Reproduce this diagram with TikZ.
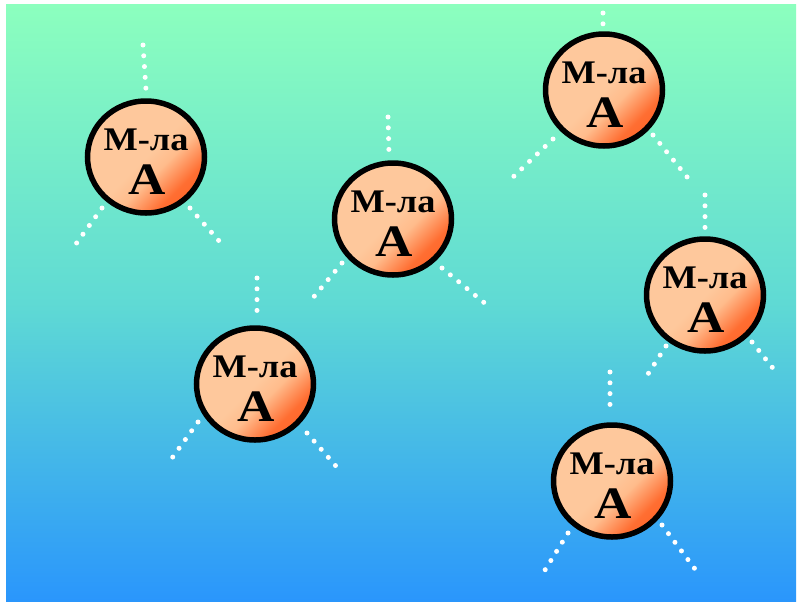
\documentclass[tikz,border=0pt]{standalone}
\usepackage{fontspec}
\setmainfont{Liberation Serif}
\definecolor{bgtop}{RGB}{140,255,190}
\definecolor{bgmid}{RGB}{95,218,212}
\definecolor{bgbot}{RGB}{42,150,252}
\definecolor{peach}{RGB}{254,200,156}
\definecolor{peachb}{RGB}{255,188,140}
\definecolor{orng}{RGB}{255,110,50}
\definecolor{redor}{RGB}{255,68,0}
\pgfdeclarehorizontalshading{ballshade}{100bp}{color(0bp)=(peach); color(50bp)=(peach); color(58bp)=(peachb); color(70bp)=(orng); color(100bp)=(redor)}
\tikzset{
  ball/.style={ellipse, minimum width=117pt, minimum height=112pt, inner sep=0pt, draw=black, line width=5.5pt, shading=ballshade, shading angle=-45},
  dots/.style={draw=white, line width=5pt, line cap=round, dash pattern=on 0pt off 10.8pt},
  lbl/.style={anchor=base, inner sep=0pt, font=\bfseries\fontsize{33}{33}\selectfont},
  big/.style={anchor=base, inner sep=0pt, font=\bfseries\fontsize{45}{45}\selectfont}
}
\usetikzlibrary{shapes.geometric}
\begin{document}
\begin{tikzpicture}[x=1pt,y=-1pt]
\useasboundingbox (0,0) rectangle (798,603);
\fill[white] (0,0) rectangle (798,603);
\shade[top color=bgtop, bottom color=bgbot, middle color=bgmid] (6,4) rectangle (796,601);
% dotted lines
\coordinate (a1) at (143,45);  \coordinate (a2) at (146,90);
\coordinate (a3) at (102,208); \coordinate (a4) at (73,248);
\coordinate (a5) at (190,208); \coordinate (a6) at (220,242);
\coordinate (b1) at (388,117); \coordinate (b2) at (389,154);
\coordinate (b3) at (342,263); \coordinate (b4) at (312,299);
\coordinate (b5) at (442,268); \coordinate (b6) at (487,305);
\coordinate (c1) at (603,13);  \coordinate (c2) at (603,24);
\coordinate (c3) at (553,139); \coordinate (c4) at (511,179);
\coordinate (c5) at (653,135); \coordinate (c6) at (692,183);
\coordinate (d1) at (705,195); \coordinate (d2) at (705,232);
\coordinate (d3) at (666,346); \coordinate (d4) at (648,374);
\coordinate (d5) at (752,342); \coordinate (d6) at (776,372);
\coordinate (e1) at (257,278); \coordinate (e2) at (257,318);
\coordinate (e3) at (198,422); \coordinate (e4) at (167,465);
\coordinate (e5) at (307,433); \coordinate (e6) at (342,473);
\coordinate (f1) at (610,372); \coordinate (f2) at (610,413);
\coordinate (f3) at (568,533); \coordinate (f4) at (545,570);
\coordinate (f5) at (662,525); \coordinate (f6) at (698,573);
\foreach \p in {a,b,c,d,e,f}{
  \draw[dots] (\p1) -- (\p2);
  \draw[dots] (\p3) -- (\p4);
  \draw[dots] (\p5) -- (\p6);
}
% balls
\foreach \n/\x/\y in {n1/146/157, n2/393/219, n3/604/90, n4/705/295, n5/255/384, n6/612/481}{
  \node[ball] (\n) at (\x,\y) {};
  \node[lbl] (\n-t) at (\x,\y-7) {\scalebox{1.1}[1]{М-ла}};
  \node[big] (\n-a) at (\x+1,\y+37) {\scalebox{1.15}[1]{А}};
}
\end{tikzpicture}
\end{document}
